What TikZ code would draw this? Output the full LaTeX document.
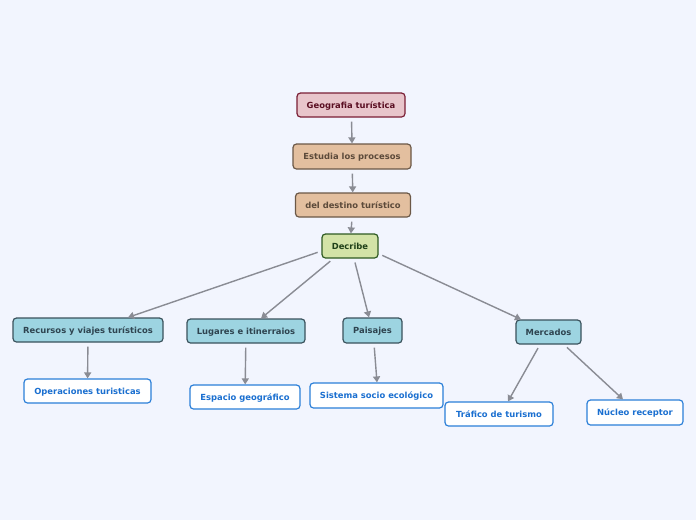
\documentclass[tikz,border=0pt]{standalone}
\usepackage{fontspec}
\setmainfont{DejaVu Sans}
\usetikzlibrary{arrows.meta}
\definecolor{bg}{HTML}{F2F5FE}
\definecolor{edge}{HTML}{8A8C94}
\definecolor{rfill}{HTML}{E8C5CB}
\definecolor{rdraw}{HTML}{7A1E35}
\definecolor{rtext}{HTML}{5A0E22}
\definecolor{ofill}{HTML}{E3BF9F}
\definecolor{odraw}{HTML}{6B5847}
\definecolor{otext}{HTML}{5C4A3A}
\definecolor{gfill}{HTML}{D3E3A7}
\definecolor{gdraw}{HTML}{2E5A22}
\definecolor{gtext}{HTML}{1F4018}
\definecolor{bfill}{HTML}{9DD4E1}
\definecolor{bdraw}{HTML}{3A525C}
\definecolor{btext}{HTML}{2E4450}
\definecolor{wdraw}{HTML}{2B7FD8}
\definecolor{wtext}{HTML}{1A6FD0}
\tikzset{
  box/.style={rounded corners=3.5pt, line width=1.2pt, inner sep=0pt, minimum height=24pt,
    font=\fontsize{8.4}{10}\selectfont\bfseries, text depth=0pt},
  root/.style={box, fill=rfill, draw=rdraw, text=rtext},
  orange/.style={box, fill=ofill, draw=odraw, text=otext},
  green/.style={box, fill=gfill, draw=gdraw, text=gtext},
  blue/.style={box, fill=bfill, draw=bdraw, text=btext},
  white/.style={box, fill=white, draw=wdraw, text=wtext},
  link/.style={draw=edge, line width=1.4pt, shorten <=4pt, -{Triangle[length=6pt,width=7pt]}},
}
\begin{document}
\begin{tikzpicture}[x=1pt,y=-1pt]
\fill[bg] (0,0) rectangle (696,520);
\useasboundingbox (0,0) rectangle (696,520);
\node[root, minimum width=108pt] (geo) at (351,105) {Geografia turística};
\node[orange, minimum width=118pt, minimum height=25pt] (est) at (352,156.5) {Estudia los procesos};
\node[orange, minimum width=115pt] (del) at (353,205) {del destino turístico};
\node[green, minimum width=56pt] (dec) at (350,246) {Decribe};
\node[blue, minimum width=150pt] (rec) at (88,330) {Recursos y viajes turísticos};
\node[blue, minimum width=118pt] (lug) at (246,331) {Lugares e itinerraios};
\node[blue, minimum width=59pt, minimum height=25pt] (pai) at (372.5,330.5) {Paisajes};
\node[blue, minimum width=65pt] (mer) at (548.5,332) {Mercados};
\node[white, minimum width=127pt] (ope) at (87.5,391) {Operaciones turisticas};
\node[white, minimum width=110pt] (esp) at (245,397) {Espacio geográfico};
\node[white, minimum width=133pt, minimum height=25pt] (sis) at (376.5,395.5) {Sistema socio ecológico};
\node[white, minimum width=108pt] (tra) at (499,414) {Tráfico de turismo};
\node[white, minimum width=96pt, minimum height=25pt] (nuc) at (635,412.5) {Núcleo receptor};
\draw[link] (geo.south -| 351.5,0) -- (est.north -| 352,0);
\draw[link] (est) -- (del);
\draw[link] (del) -- (dec);
\draw[link] (dec.190) -- (rec.north -| 128,0);
\draw[link] (dec.south west) ++(12,0) coordinate (d1) (d1) -- (lug.north -| 261,0);
\draw[link] (dec.south) ++(4,0) coordinate (d2) (d2) -- (pai.north -| 369,0);
\draw[link] (dec.-15) -- (mer.north -| 521,0);
\draw[link] (rec) -- (ope);
\draw[link] (lug) -- (esp);
\draw[link] (pai.south -| 374,0) -- (sis.north -| 377,0);
\draw[link] (mer.south -| 540,0) -- (tra.north -| 508,0);
\draw[link] (mer.south -| 564,0) -- (nuc.north -| 623,0);
\end{tikzpicture}
\end{document}
